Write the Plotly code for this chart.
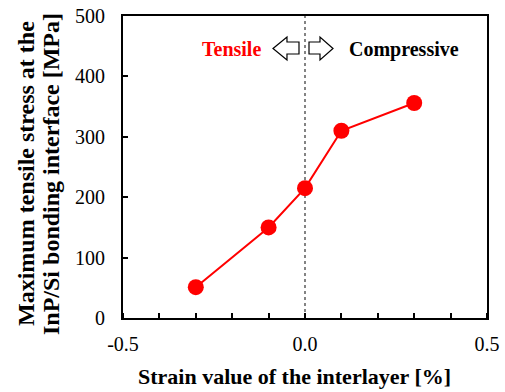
import plotly.graph_objects as go

# Interlayer strain [%] vs maximum tensile stress [MPa]
strain = [-0.3, -0.1, 0.0, 0.1, 0.3]
stress = [51, 150, 215, 310, 356]

x_ticks = [-0.5, 0.0, 0.5]
x_tick_text = ["-0.5", "0.0", "0.5"]
y_ticks = [0, 100, 200, 300, 400, 500]

x_title = "<b>Strain value of the interlayer [%]</b>"
y_title_lines = ["<b>Maximum tensile stress at the</b>",
                 "<b>InP/Si bonding interface [MPa]</b>"]

FONT = "Liberation Serif"
W, H = 505, 392
L, R, T, B = 123, 18, 16, 74
pw, ph = W - L - R, H - T - B


def px(x):
    return (x - L) / pw


def py(y):
    return (H - B - y) / ph


def arrow_path(tip, base, head, y0, y1, s0, s1):
    ym = (y0 + y1) / 2
    pts = [(tip, ym), (head, y0), (head, s0), (base, s0),
           (base, s1), (head, s1), (head, y1)]
    return "M " + " L ".join(f"{px(a):.4f},{py(b):.4f}" for a, b in pts) + " Z"


fig = go.Figure()
fig.add_trace(go.Scatter(
    x=strain, y=stress, mode="lines+markers",
    line=dict(color="#ff0000", width=2),
    marker=dict(color="#ff0000", size=16),
    showlegend=False,
))

fig.add_shape(type="line", xref="x", yref="paper", x0=0, x1=0, y0=0, y1=1,
              line=dict(color="#333333", width=1.2, dash="3px,3px"), layer="below")

# Outlined direction arrows
fig.add_shape(type="path", xref="paper", yref="paper",
              path=arrow_path(273, 299, 287, 37, 60, 42, 54),
              line=dict(color="black", width=1.2), fillcolor="white")
fig.add_shape(type="path", xref="paper", yref="paper",
              path=arrow_path(333, 309, 320, 37, 60, 42, 54),
              line=dict(color="black", width=1.2), fillcolor="white")

fig.add_annotation(xref="paper", yref="paper", x=px(231), y=py(49), text="<b>Tensile</b>",
                   xanchor="center", yanchor="middle", showarrow=False,
                   font=dict(family=FONT, size=20, color="#ff0000"))
fig.add_annotation(xref="paper", yref="paper", x=px(404), y=py(49), text="<b>Compressive</b>",
                   xanchor="center", yanchor="middle", showarrow=False,
                   font=dict(family=FONT, size=20, color="black"))

# Axis titles
fig.add_annotation(xref="paper", yref="paper", x=px(294), y=py(376), text=x_title,
                   xanchor="center", yanchor="middle", showarrow=False,
                   font=dict(family=FONT, size=22, color="black"))
for xpos, line in zip([26, 51], y_title_lines):
    fig.add_annotation(xref="paper", yref="paper", x=px(xpos), y=py(174), text=line,
                       textangle=-90, xanchor="center", yanchor="middle", showarrow=False,
                       font=dict(family=FONT, size=24, color="black"))

fig.update_layout(
    width=W, height=H,
    margin=dict(l=L, r=R, t=T, b=B),
    plot_bgcolor="white", paper_bgcolor="white",
    font=dict(family=FONT, size=20, color="black"),
    xaxis=dict(
        range=[-0.5, 0.5], tickvals=x_ticks, ticktext=x_tick_text,
        ticks="", showgrid=False, zeroline=False, automargin=False,
        showline=True, linecolor="black", linewidth=2, mirror=True,
        minor=dict(dtick=0.1, ticks="inside", ticklen=5, tickcolor="black", tickwidth=1.5),
        tickfont=dict(size=20), ticklabelstandoff=7,
    ),
    yaxis=dict(
        range=[0, 500], tickvals=y_ticks,
        ticks="inside", ticklen=5, tickcolor="black", tickwidth=1.5,
        showgrid=False, zeroline=False, automargin=False,
        showline=True, linecolor="black", linewidth=2, mirror=True,
        tickfont=dict(size=20), ticklabelstandoff=12,
    ),
)

fig.write_html("out.html")
